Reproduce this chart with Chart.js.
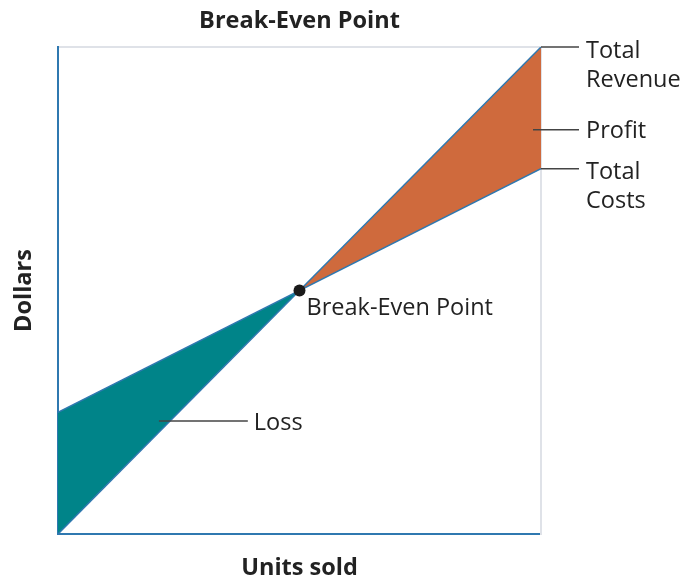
<!DOCTYPE html>
<html>
<head>
<meta charset="utf-8">
<script src="https://cdn.jsdelivr.net/npm/chart.js@4"></script>
<style>
  body { margin: 0; background: #fff; }
  #wrap { width: 685px; height: 580px; }
</style>
</head>
<body>
<div id="wrap"><canvas id="chart"></canvas></div>
<script>
// Units sold (x) at the two ends of the chart
const units = [0, 10];
// Dollars for each line at those units
const totalRevenue = [0, 10];
const totalCosts = [2.5, 7.5];
// Where the two lines cross
const breakEven = [5, 5];

const FONT = "'Open Sans', sans-serif";
const TEAL = '#008489';
const ORANGE = '#cf6a3d';
const LINE = '#2f78b0';
const TEXT = '#222222';

const toPoints = (ys) => units.map((x, i) => ({ x, y: ys[i] }));

// Labels with leader lines, drawn on top of the plot
const labelPlugin = {
    id: 'labels',
    afterDatasetsDraw(chart) {
        const { ctx, scales: { x, y } } = chart;
        const px = v => x.getPixelForValue(v);
        const py = v => y.getPixelForValue(v);
        ctx.save();
        ctx.font = `23.5px ${FONT}`;
        ctx.fillStyle = TEXT;
        ctx.strokeStyle = '#444';
        ctx.lineWidth = 1.5;
        ctx.textBaseline = 'middle';

        const leader = (x1, y1, x2) => {
            ctx.beginPath();
            ctx.moveTo(x1, y1);
            ctx.lineTo(x2, y1);
            ctx.stroke();
        };

        const right = px(units[1]);
        // Total Revenue
        const yr = py(totalRevenue[1]);
        leader(right, yr, right + 38);
        ctx.fillText('Total', right + 45, yr + 4);
        ctx.fillText('Revenue', right + 45, yr + 33);
        // Profit
        const yp = py(8.3);
        leader(right - 8, yp, right + 38);
        ctx.fillText('Profit', right + 45, yp + 2);
        // Total Costs
        const yc = py(totalCosts[1]);
        leader(right, yc, right + 38);
        ctx.fillText('Total', right + 45, yc + 4);
        ctx.fillText('Costs', right + 45, yc + 33);
        // Break-Even Point
        ctx.fillText('Break-Even Point', px(breakEven[0]) + 7, py(breakEven[1]) + 18);
        // Loss
        const yl = py(2.32);
        leader(px(2.09), yl, px(3.93));
        ctx.fillText('Loss', px(3.93) + 6, yl + 2);
        ctx.restore();
    }
};

const titleFont = { family: FONT, size: 23.5, weight: 'bold', lineHeight: 1 };

const ctx = document.getElementById('chart').getContext('2d');
new Chart(ctx, {
    type: 'line',
    data: {
        datasets: [
            {
                label: 'Total Revenue',
                data: toPoints(totalRevenue),
                borderColor: LINE,
                borderWidth: 1.5,
                pointRadius: 0,
                fill: false,
                order: 2
            },
            {
                label: 'Total Costs',
                data: toPoints(totalCosts),
                borderColor: LINE,
                borderWidth: 1.5,
                pointRadius: 0,
                fill: { target: 0, above: TEAL, below: ORANGE },
                order: 3
            },
            {
                label: 'Break-Even Point',
                type: 'scatter',
                data: [{ x: breakEven[0], y: breakEven[1] }],
                pointRadius: 6,
                pointBackgroundColor: '#1a1a1a',
                pointBorderWidth: 0,
                order: 1
            }
        ]
    },
    plugins: [labelPlugin],
    options: {
        responsive: true,
        maintainAspectRatio: false,
        animation: false,
        layout: { padding: 0 },
        plugins: {
            legend: { display: false },
            title: { display: false },
            tooltip: { enabled: false }
        },
        scales: {
            x: {
                type: 'linear',
                position: 'bottom',
                min: 0,
                max: 10,
                grid: { display: false },
                ticks: { display: false },
                border: { color: LINE, width: 2 },
                title: {
                    display: true,
                    text: 'Units sold',
                    color: TEXT,
                    font: titleFont,
                    padding: { top: 0, bottom: 0 }
                },
                afterFit: s => { s.height = 46; }
            },
            xTop: {
                type: 'linear',
                position: 'top',
                min: 0,
                max: 10,
                grid: { display: false },
                ticks: { display: false },
                border: { color: '#dfe2e8', width: 2 },
                title: {
                    display: true,
                    text: 'Break-Even Point',
                    color: TEXT,
                    font: titleFont,
                    padding: { top: 10, bottom: 0 }
                },
                afterFit: s => { s.height = 47; }
            },
            y: {
                type: 'linear',
                position: 'left',
                min: 0,
                max: 10,
                grid: { display: false },
                ticks: { display: false },
                border: { color: LINE, width: 2 },
                title: {
                    display: true,
                    text: 'Dollars',
                    color: TEXT,
                    font: titleFont,
                    padding: { top: 13, bottom: 0 }
                },
                afterFit: s => { s.width = 58; }
            },
            yRight: {
                type: 'linear',
                position: 'right',
                min: 0,
                max: 10,
                grid: { display: false },
                ticks: { display: false },
                border: { color: '#dfe2e8', width: 2 },
                afterFit: s => { s.width = 144; }
            }
        }
    }
});
</script>
</body>
</html>
